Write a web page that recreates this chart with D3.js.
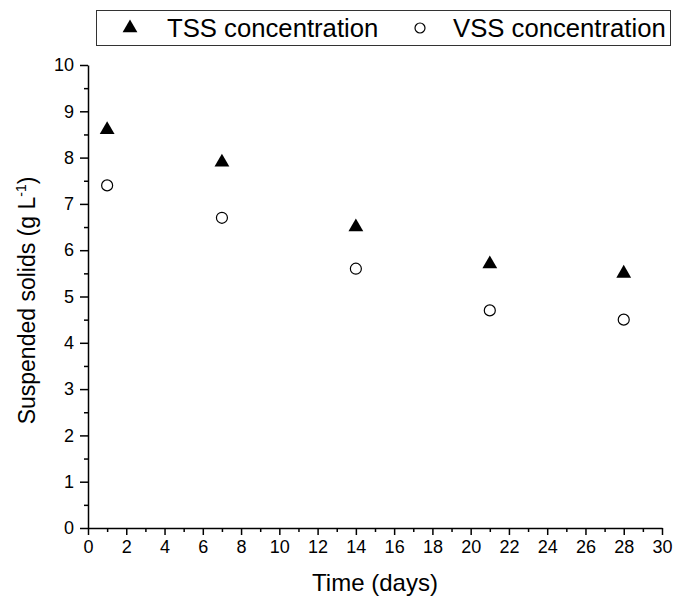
<!DOCTYPE html>
<html>
<head>
<meta charset="utf-8">
<script src="https://cdn.jsdelivr.net/npm/d3@7"></script>
<style>
  body { margin: 0; background: #fff; }
  text { font-family: "Liberation Sans", Arial, sans-serif; fill: #000; }
</style>
</head>
<body>
<svg id="chart"></svg>
<script>
var days = [1, 7, 14, 21, 28];
var tss = [8.6, 7.9, 6.5, 5.7, 5.5];
var vss = [7.4, 6.7, 5.6, 4.7, 4.5];
var xTicks = d3.range(0, 31, 2);
var yTicks = d3.range(0, 11, 1);

var screen = { width: 686, height: 600 };
var margins = { top: 65, bottom: 72, left: 88, right: 24 };

var svg = d3.select("#chart")
  .attr("width", screen.width)
  .attr("height", screen.height);

var width = screen.width - margins.left - margins.right;
var height = screen.height - margins.top - margins.bottom;

var xScale = d3.scaleLinear().domain([0, 30]).range([0, width]);
var yScale = d3.scaleLinear().domain([0, 10]).range([height, 0]);

var plot = svg.append("g")
  .attr("transform", "translate(" + margins.left + "," + margins.top + ")");

// minor ticks first
plot.append("g")
  .attr("transform", "translate(0," + height + ")")
  .call(d3.axisBottom(xScale).tickValues(d3.range(1, 30, 2)).tickSize(4).tickFormat(""))
  .call(function(g) { g.select(".domain").remove(); });
plot.append("g")
  .call(d3.axisLeft(yScale).tickValues(d3.range(0.5, 10, 1)).tickSize(4).tickFormat(""))
  .call(function(g) { g.select(".domain").remove(); });

var xAxis = plot.append("g")
  .attr("transform", "translate(0," + height + ")")
  .call(d3.axisBottom(xScale).tickValues(xTicks).tickSize(7).tickSizeOuter(0).tickPadding(5));
var yAxis = plot.append("g")
  .call(d3.axisLeft(yScale).tickValues(yTicks).tickSize(8).tickSizeOuter(0).tickPadding(6));

svg.selectAll(".tick line, .domain").attr("stroke", "#000").attr("stroke-width", 1.5);
svg.selectAll(".tick text").style("font-family", "Liberation Sans, Arial, sans-serif").style("font-size", "18px").attr("fill", "#000");

// axis titles
svg.append("text")
  .attr("x", margins.left + width / 2)
  .attr("y", 591)
  .attr("text-anchor", "middle")
  .style("font-size", "24px")
  .text("Time (days)");

var yt = svg.append("text")
  .attr("transform", "translate(35," + (margins.top + height / 2 + 4) + ") rotate(-90)")
  .attr("text-anchor", "middle")
  .style("font-size", "23px");
yt.append("tspan").text("Suspended solids (g L");
yt.append("tspan").attr("dy", -9).style("font-size", "14px").text("-1");
yt.append("tspan").attr("dy", 9).text(")");

var tri = d3.symbol().type(d3.symbolTriangle).size(95);

plot.selectAll(".tss")
  .data(days)
  .enter()
  .append("path")
  .attr("class", "tss")
  .attr("d", tri)
  .attr("transform", function(d, i) { return "translate(" + xScale(d) + "," + yScale(tss[i]) + ")"; })
  .attr("fill", "#000");

plot.selectAll(".vss")
  .data(days)
  .enter()
  .append("circle")
  .attr("class", "vss")
  .attr("cx", function(d) { return xScale(d); })
  .attr("cy", function(d, i) { return yScale(vss[i]); })
  .attr("r", 5.5)
  .attr("fill", "#fff")
  .attr("stroke", "#000")
  .attr("stroke-width", 1.2);

// legend
var legend = svg.append("g");
legend.append("rect")
  .attr("x", 96.5).attr("y", 10.5)
  .attr("width", 574).attr("height", 35)
  .attr("fill", "#fff").attr("stroke", "#333").attr("stroke-width", 1);
legend.append("path")
  .attr("d", tri)
  .attr("transform", "translate(130,28)")
  .attr("fill", "#000");
legend.append("text")
  .attr("x", 167).attr("y", 37)
  .style("font-size", "25.7px")
  .text("TSS concentration");
legend.append("circle")
  .attr("cx", 420).attr("cy", 28).attr("r", 5)
  .attr("fill", "#fff").attr("stroke", "#000").attr("stroke-width", 1.2);
legend.append("text")
  .attr("x", 453).attr("y", 37)
  .style("font-size", "25.7px")
  .text("VSS concentration");
</script>
</body>
</html>
